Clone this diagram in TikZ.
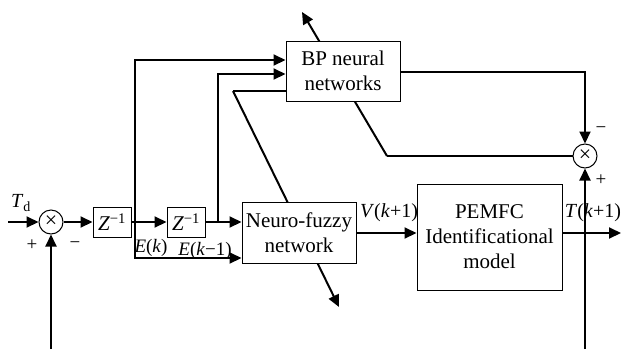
\documentclass[tikz,border=0pt]{standalone}
\usepackage{fontspec}
\setmainfont{Liberation Serif}
\usetikzlibrary{arrows.meta}
\pgfdeclarelayer{bg}
\pgfsetlayers{bg,main}
\begin{document}
\begin{tikzpicture}[x=1pt,y=-1pt,
  box/.style={draw,line width=1pt,fill=white,align=center,inner sep=0pt,font=\fontsize{21}{25}\selectfont},
  sumc/.style={draw,circle,line width=1pt,fill=white,minimum size=24pt,inner sep=0pt,font=\fontsize{22}{22}\selectfont},
  conn/.style={line width=2pt},
  arr/.style={line width=2pt,-{Triangle[length=12pt,width=11pt]}},
  lbl/.style={font=\fontsize{20}{22}\selectfont,inner sep=0pt},
  slbl/.style={font=\fontsize{19}{20}\selectfont,inner sep=0pt}]
\useasboundingbox (0,0) rectangle (621,349);
% nodes
\node[sumc] (s1) at (51,222) {×};
\node[box,minimum width=38pt,minimum height=30pt] (z1) at (112,222) {\textit{Z}\textsuperscript{−1}};
\node[box,minimum width=38pt,minimum height=30pt] (z2) at (186,222) {\textit{Z}\textsuperscript{−1}};
\node[box,minimum width=114pt,minimum height=61pt] (nf) at (299,233) {Neuro-fuzzy\\network};
\node[box,minimum width=114pt,minimum height=60pt] (bp) at (343,71) {BP neural\\networks};
\node[box,minimum width=145pt,minimum height=106pt] (pem) at (489.5,237) {PEMFC\\Identificational\\model};
\node[sumc] (s2) at (585,156) {×};
% coordinates
\coordinate (tdin) at (8,222);
\coordinate (bot1) at (51,349);
\coordinate (bot2) at (585,349);
\coordinate (b1) at (135,222);
\coordinate (b1top) at (135,60);
\coordinate (b1low) at (135,258);
\coordinate (b2) at (218,222);
\coordinate (b2top) at (218,74);
\coordinate (bpl) at (286,91);
\coordinate (kneeA) at (233,91);
\coordinate (endA) at (339,307);
\coordinate (kneeB) at (387,156);
\coordinate (endB) at (302,12);
\coordinate (bpr) at (400,72);
\coordinate (tout) at (621,233);
% diagonal adjust arrows behind boxes
\begin{pgfonlayer}{bg}
\draw[conn] (bpl) -- (kneeA);
\draw[arr] (kneeA) -- (endA);
\draw[arr] (kneeB) -- (endB);
\end{pgfonlayer}
\draw[conn] (kneeB) -- (s2.west);
% main connectors
\draw[arr] (tdin) -- (s1.west);
\draw[arr] (bot1) -- (s1.south);
\draw[arr] (s1.east) -- (z1.west);
\draw[arr] (z1.east) -- (z2.west);
\draw[arr] (z2.east) -- (nf.west |- z2.east);
\draw[arr] (b1) -- (b1top) -- (bp.west |- b1top);
\draw[arr] (b1) -- (b1low) -- (nf.west |- b1low);
\draw[arr] (b2) -- (b2top) -- (bp.west |- b2top);
\draw[arr] (nf.east) -- (pem.west |- nf.east);
\draw[arr] (pem.east |- nf.east) -- (tout);
\draw[arr] (bpr) -| (s2.north);
\draw[arr] (bot2) -- (s2.south);
% labels
\node[lbl] (ltd) at (21,203) {\textit{T}\textsubscript{d}};
\node[slbl] (lp1) at (32,245) {+};
\node[slbl] (lm1) at (75,245) {−};
\node[slbl] (lek) at (151,248) {\textit{E}(\textit{k})};
\node[slbl] (lek1) at (205,251) {\textit{E}(\textit{k}−1)};
\node[lbl] (lv) at (389,213) {\textit{V}(\textit{k}+1)};
\node[lbl] (lt) at (593,213) {\textit{T}(\textit{k}+1)};
\node[slbl] (lm2) at (601,130) {−};
\node[slbl] (lp2) at (601,180) {+};
\end{tikzpicture}
\end{document}
